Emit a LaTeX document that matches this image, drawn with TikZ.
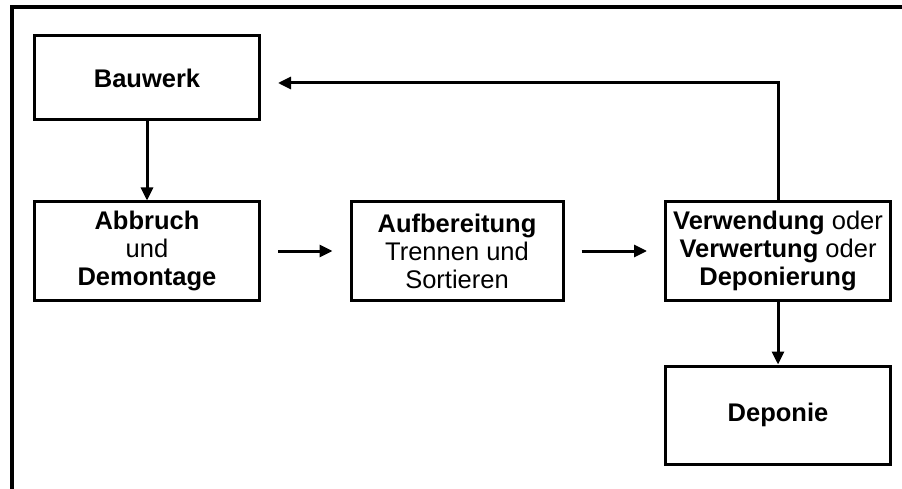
\documentclass[tikz,border=0pt]{standalone}
\usepackage{fontspec}
\setmainfont{Liberation Sans}
\usetikzlibrary{arrows.meta}
\begin{document}
\begin{tikzpicture}[x=1pt,y=-1pt,
  box/.style={draw,line width=3pt,minimum width=#1,minimum height=98pt,inner sep=0pt,align=center,font=\fontsize{25.5}{28}\selectfont},
  box/.default=225pt,
  arr/.style={line width=3pt,-{Triangle[length=13pt,width=12pt]}}]
\useasboundingbox (0,0) rectangle (902,489);
\draw[line width=3.5pt] (12,489) -- (12,7) -- (902,7);
\node[box,minimum height=84pt] (bau) at (147,78) {\textbf{Bauwerk}};
\node[box] (abb) at (147,251) {\textbf{Abbruch}\\und\\\textbf{Demontage}};
\node[box=212pt] (auf) at (457,251) {\textbf{Aufbereitung}\\Trennen und\\Sortieren};
\node[box] (ver) at (778,251) {\textbf{Verwendung} oder\\\textbf{Verwertung} oder\\\textbf{Deponierung}};
\node[box] (dep) at (778,415) {\textbf{Deponie}};
\draw[arr] (bau.south) -- (abb.north);
\coordinate (a1s) at ([xshift=17pt]abb.east);
\coordinate (a1e) at ([xshift=-17pt]auf.west);
\draw[arr] (a1s) -- (a1e);
\coordinate (a2s) at ([xshift=17pt]auf.east);
\coordinate (a2e) at ([xshift=-17pt]ver.west);
\draw[arr] (a2s) -- (a2e);
\coordinate (corner) at (ver.north |- 0,83);
\coordinate (backend) at ([xshift=17pt]bau.east |- corner);
\draw[arr] (ver.north) -- (corner) -- (backend);
\draw[arr] (ver.south) -- (dep.north);
\end{tikzpicture}
\end{document}
